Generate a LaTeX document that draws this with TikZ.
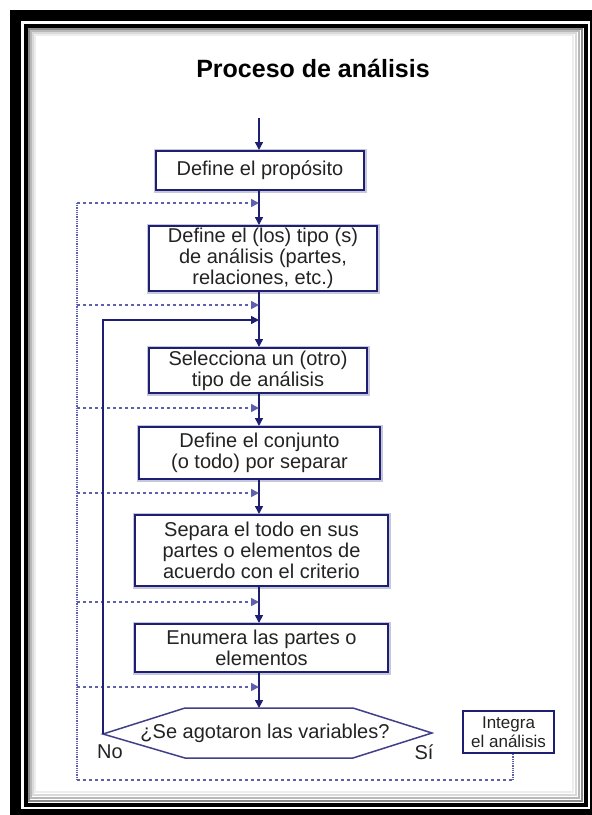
\documentclass[tikz,border=0pt]{standalone}
\usepackage{fontspec}
\setmainfont{Liberation Sans}
\usetikzlibrary{arrows.meta}
\definecolor{navyc}{RGB}{30,30,115}
\definecolor{dashc}{RGB}{95,95,175}
\definecolor{txtc}{RGB}{35,35,35}
\begin{document}
\begin{tikzpicture}[x=1pt,y=-1pt,
  box/.style={draw=navyc, line width=2pt, fill=white, text=txtc,
    font=\fontsize{20}{21}\selectfont, align=center, inner sep=0pt,
    preaction={draw=navyc!25, line width=5pt}},
  tip/.style={-{Triangle[length=8pt,width=8pt]}},
  arr/.style={draw=navyc, line width=1.6pt, tip},
  dsh/.style={draw=dashc, line width=1.6pt, dash pattern=on 3pt off 3pt},
  dotl/.style={draw=dashc, line width=1.8pt, dash pattern=on 1pt off 0.8pt},
  lbl/.style={text=txtc, font=\fontsize{20}{21}\selectfont, inner sep=0pt}
]
\useasboundingbox (0,0) rectangle (592,815);
\fill[white] (0,0) rectangle (592,815);
% frame
\draw[black, line width=11pt] (15.5,15.5) rectangle (595.5,814.5);
\draw[black!45, line width=2pt] (29,29) rectangle (582,801);
\draw[black!28, line width=2pt] (31,31) rectangle (579,798);
\draw[black!15, line width=2pt] (33,33) rectangle (576,795);
\draw[black!7, line width=2pt] (35,35) rectangle (573,792);
\draw[black, line width=4pt] (26,26) rectangle (586,805);

% title
\node[text=black, font=\fontsize{25}{27}\selectfont\bfseries, inner sep=0pt] (title) at (313,68) {Proceso de análisis};

% key coordinates
\coordinate (mx) at (259,0);
\coordinate (dl) at (77,0);
\coordinate (start) at (259,118);

% boxes
\node[box, minimum width=208pt, minimum height=39pt] (b1) at (260,170.5) {Define el propósito};
\node[box, minimum width=228pt, minimum height=65pt] (b2) at (263,258.5) {Define el (los) tipo (s)\\de análisis (partes,\\relaciones, etc.)};
\node[box, minimum width=218pt, minimum height=45pt] (b3) at (258,370.5) {Selecciona un (otro)\\tipo de análisis};
\node[box, minimum width=241pt, minimum height=52pt] (b4) at (259.5,453) {Define el conjunto\\(o todo) por separar};
\node[box, minimum width=253pt, minimum height=71pt] (b5) at (261.5,550.5) {Separa el todo en sus\\partes o elementos de\\acuerdo con el criterio};
\node[box, minimum width=253pt, minimum height=48pt] (b6) at (261.5,648) {Enumera las partes o\\elementos};
\node[draw=navyc, line width=1.8pt, fill=white, text=txtc, align=center, inner sep=0pt,
  font=\fontsize{17}{19}\selectfont, minimum width=91pt, minimum height=42pt] (b7) at (508.5,732) {Integra\\el análisis};

% decision hexagon
\coordinate (hL) at (103,734);
\coordinate (hT) at (259,708);
\coordinate (hR) at (432,733);
\draw[navyc!85, line width=1.5pt, fill=white] (hL) -- (185,708) -- (353,708) -- (hR) -- (353,758) -- (185,758) -- cycle;
\node[lbl] (q) at (265,733) {¿Se agotaron las variables?};
\node[lbl] (no) at (110,752) {No};
\node[lbl] (si) at (424,752) {Sí};

% main flow
\draw[arr] (start) -- (b1.north -| mx);
\draw[arr] (b1.south -| mx) -- (b2.north -| mx);
\draw[arr] (b2.south -| mx) -- (b3.north -| mx);
\draw[arr] (b3.south -| mx) -- (b4.north -| mx);
\draw[arr] (b4.south -| mx) -- (b5.north -| mx);
\draw[arr] (b5.south -| mx) -- (b6.north -| mx);
\draw[arr] (b6.south -| mx) -- (hT);

% dashed feedback arrows
\coordinate (c1) at (259,203);
\coordinate (c2) at (259,305);
\coordinate (c3) at (259,408);
\coordinate (c4) at (259,493);
\coordinate (c5) at (259,602);
\coordinate (c6) at (259,687);
\foreach \c in {c1,c2,c3,c4,c5,c6}{
  \draw[dsh, tip, dashc] (dl |- \c) -- (\c);
}
\coordinate (bl) at (77,780);
\coordinate (br) at (513,780);
\draw[dotl] (dl |- c1) -- (bl);
\draw[dsh] (bl) -- (br);
\draw[dotl] (br) -- (br |- b7.south);

% No loop
\coordinate (lp) at (259,320);
\draw[arr] (hL) -- (hL |- lp) -- (lp);
\end{tikzpicture}
\end{document}
